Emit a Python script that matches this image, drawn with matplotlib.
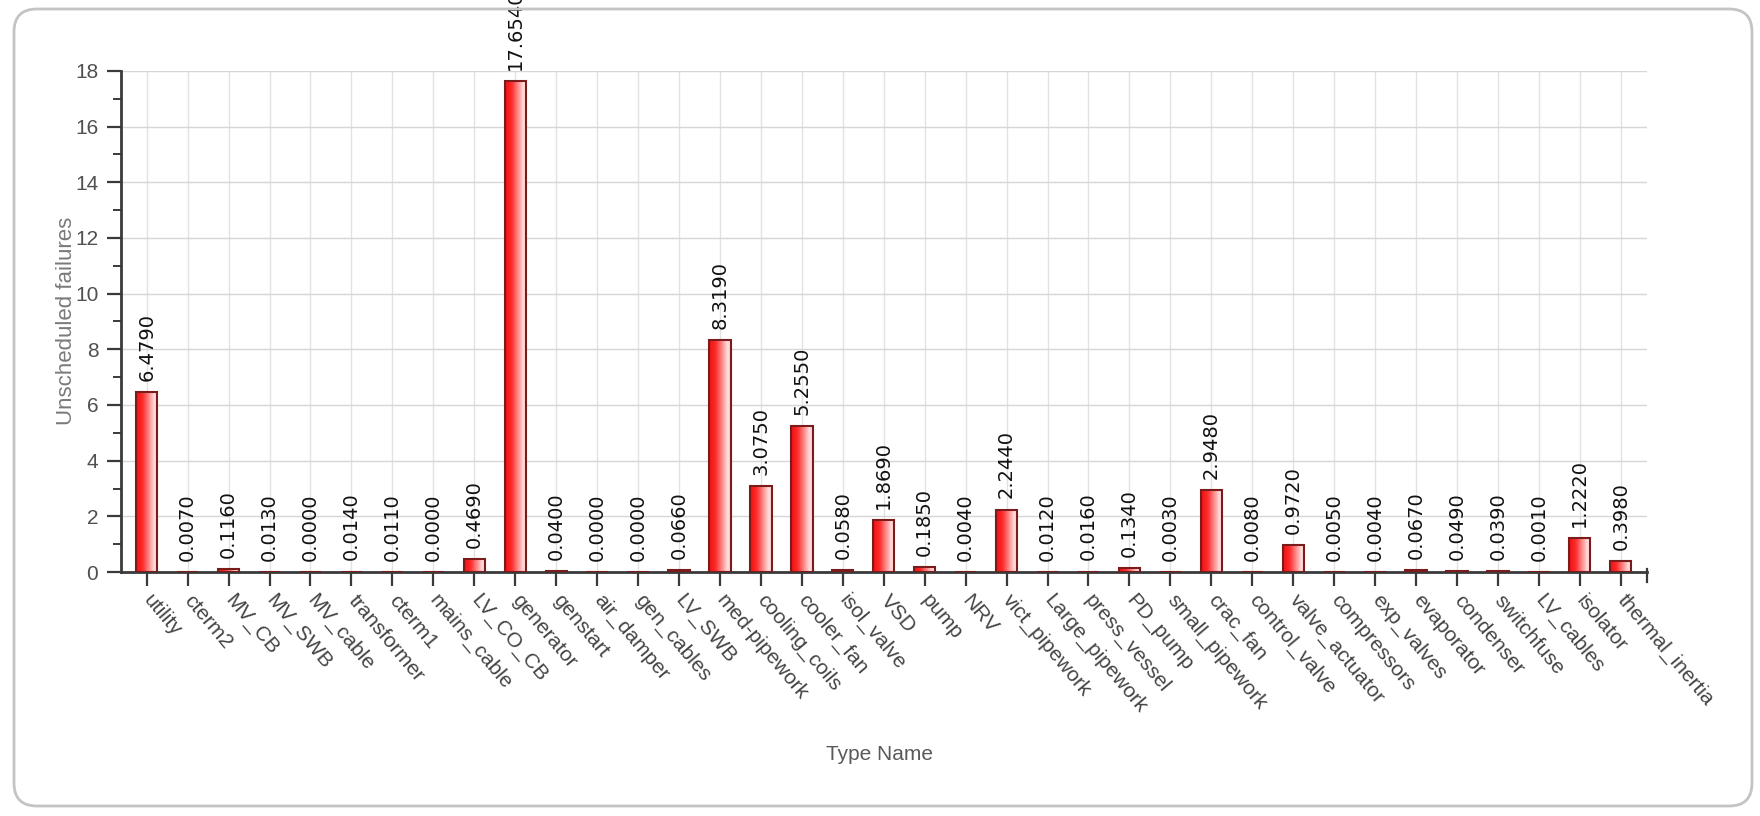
import matplotlib
matplotlib.use("Agg")
import matplotlib.pyplot as plt
import numpy as np
from matplotlib import font_manager
from matplotlib.colors import LinearSegmentedColormap
from matplotlib.lines import Line2D
from matplotlib.patches import FancyBboxPatch
from matplotlib.ticker import MultipleLocator

TYPE_NAMES = [
    "utility", "cterm2", "MV_CB", "MV_SWB", "MV_cable", "transformer", "cterm1",
    "mains_cable", "LV_CO_CB", "generator", "genstart", "air_damper", "gen_cables",
    "LV_SWB", "med-pipework", "cooling_coils", "cooler_fan", "isol_valve", "VSD",
    "pump", "NRV", "vict_pipework", "Large_pipework", "press_vessel", "PD_pump",
    "small_pipework", "crac_fan", "control_valve", "valve_actuator", "compressors",
    "exp_valves", "evaporator", "condenser", "switchfuse", "LV_cables", "isolator",
    "thermal_inertia",
]
FAILURES = [
    6.4790, 0.0070, 0.1160, 0.0130, 0.0000, 0.0140, 0.0110,
    0.0000, 0.4690, 17.6540, 0.0400, 0.0000, 0.0000,
    0.0660, 8.3190, 3.0750, 5.2550, 0.0580, 1.8690,
    0.1850, 0.0040, 2.2440, 0.0120, 0.0160, 0.1340,
    0.0030, 2.9480, 0.0080, 0.9720, 0.0050,
    0.0040, 0.0670, 0.0490, 0.0390, 0.0010, 1.2220,
    0.3980,
]


def pick_font(names):
    avail = {f.name for f in font_manager.fontManager.ttflist}
    for n in names:
        if n in avail:
            return n
    return "DejaVu Sans"


NARROW = pick_font(["Liberation Sans Narrow", "Liberation Sans"])
VALUE_FONT = "DejaVu Sans"

W, H = 1760, 816
fig = plt.figure(figsize=(W / 100, H / 100), dpi=100)
fig.patch.set_facecolor("white")

# rounded panel border
frame = FancyBboxPatch(
    (14 / W, 1 - 806 / H), (1752 - 14) / W, (806 - 9) / H,
    boxstyle="round,pad=0,rounding_size=0.013", mutation_aspect=W / H,
    transform=fig.transFigure, fill=False, edgecolor="#c4c4c4", linewidth=2.0,
)
fig.patches.append(frame)

ax = fig.add_axes([120.5 / W, 1 - 572 / H, (1647 - 120.5) / W, (572 - 71) / H])
ax.set_facecolor("none")

x = np.arange(len(FAILURES))
bars = ax.bar(x, FAILURES, width=0.52, color="none", edgecolor="#7a1c1c",
              linewidth=1.5, zorder=4)

# cylinder-ish horizontal gradient inside each bar
cmap = LinearSegmentedColormap.from_list(
    "barred", [(0.0, "#ee1111"), (0.3, "#ff2c2c"), (0.6, "#ff8c8c"),
               (0.85, "#ffdede"), (1.0, "#ffcccc")]
)
grad = np.linspace(0, 1, 64).reshape(1, -1)
for b in bars:
    x0, w, h = b.get_x(), b.get_width(), b.get_height()
    if h <= 0:
        continue
    im = ax.imshow(grad, extent=[x0, x0 + w, 0, h], aspect="auto", cmap=cmap,
                   zorder=3, interpolation="bicubic")
    im.set_clip_path(b)

for xi, v in zip(x, FAILURES):
    ax.annotate(f"{v:.4f}", (xi, v), xytext=(0, 8), textcoords="offset points",
                rotation=90, ha="center", va="bottom", fontsize=14, family=VALUE_FONT,
                color="#111111", annotation_clip=False)

ax.set_xlim(-0.64, len(FAILURES) - 1 + 0.64)
ax.set_ylim(0, 18)

ax.yaxis.set_major_locator(MultipleLocator(2))
ax.yaxis.set_minor_locator(MultipleLocator(1))
ax.set_xticks(x)
ax.set_xticklabels(TYPE_NAMES, rotation=-50, ha="left", va="center",
                   rotation_mode="anchor", family=NARROW, fontsize=15, color="#444444")
for lab in ax.get_yticklabels():
    lab.set_family(NARROW)
ax.tick_params(axis="y", which="major", direction="out", length=10, width=1.6,
               color="#3a3a3a", labelsize=15, labelcolor="#505050", pad=6)
ax.tick_params(axis="y", which="minor", direction="out", length=6, width=1.4, color="#3a3a3a")
ax.tick_params(axis="x", which="major", direction="out", length=10, width=1.6,
               color="#3a3a3a", pad=8)

ax.grid(axis="y", which="major", color="#d6d6d6", linewidth=1.0, zorder=0)
ax.grid(axis="x", which="major", color="#e2e2e2", linewidth=1.0, zorder=0)
ax.set_axisbelow(True)

for side in ("top", "right"):
    ax.spines[side].set_visible(False)
for side in ("left", "bottom"):
    ax.spines[side].set_color("#3a3a3a")
    ax.spines[side].set_linewidth(2.0)
    ax.spines[side].set_zorder(3.5)

# small end mark where the category axis stops
ax.add_line(Line2D([1, 1], [-0.02, 0.006], transform=ax.transAxes, color="#3a3a3a",
                   linewidth=1.6, clip_on=False))

fig.text(66 / W, 1 - 321 / H, "Unscheduled failures", rotation=90, ha="center",
         va="center", fontsize=16, family=NARROW, color="#7a7a7a")
fig.text(879 / W, 1 - 755 / H, "Type Name", ha="center", va="center",
         fontsize=15, family=NARROW, color="#5a5a5a")

fig.savefig("out.png", dpi=100, facecolor=fig.get_facecolor())
